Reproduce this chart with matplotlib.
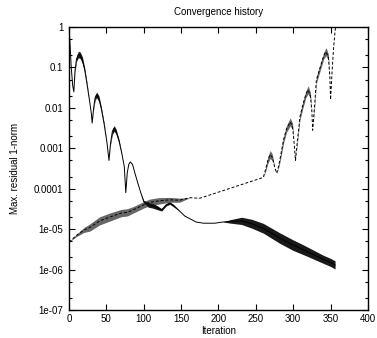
import matplotlib
matplotlib.use("Agg")
import matplotlib.pyplot as plt
import matplotlib.ticker as mticker
import numpy as np

plt.rcParams['font.family'] = ['Liberation Sans', 'DejaVu Sans']
plt.rcParams['font.size'] = 7

# solid curve: iteration, residual, half-width of the oscillation band (decades)
it_solid = [0, 1.5, 3, 5, 6.5, 8, 10, 12.5, 15, 18, 21, 24, 28, 30, 31, 33, 35, 37, 40,
            43, 47, 51, 53.5, 55.5, 58, 60.5, 63, 67, 71, 74, 76, 78, 80, 82, 85, 88,
            92, 96, 100, 106, 112, 118, 124, 130, 135, 140, 148, 155, 162, 170, 180,
            195, 206, 215, 231, 245, 260, 282, 300, 315, 327, 340, 350, 356]
res_solid = [1.0, 0.35, 0.1, 0.035, 0.025, 0.08, 0.16, 0.21, 0.2, 0.15, 0.087, 0.04,
             0.013, 0.007, 0.0042, 0.01, 0.018, 0.021, 0.017, 0.01, 0.004, 0.0013,
             0.0005, 0.0013, 0.0026, 0.0031, 0.0026, 0.0015, 0.0007, 0.00035, 8e-5,
             0.00025, 0.0004, 0.00046, 0.0004, 0.00025, 0.00014, 8e-5, 4.8e-5, 4e-5,
             3.8e-5, 3.4e-5, 3e-5, 4e-5, 4.4e-5, 3.8e-5, 2.8e-5, 2.1e-5, 1.8e-5,
             1.5e-5, 1.4e-5, 1.4e-5, 1.5e-5, 1.55e-5, 1.6e-5, 1.35e-5, 1.05e-5, 6e-6,
             4e-6, 3e-6, 2.35e-6, 1.8e-6, 1.5e-6, 1.3e-6]
band_solid = [0, 0, 0, 0, 0, 0.03, 0.06, 0.08, 0.08, 0.08, 0.05, 0.03, 0, 0, 0, 0.03,
              0.06, 0.07, 0.07, 0.05, 0.03, 0, 0, 0.03, 0.07, 0.07, 0.06, 0.04, 0, 0,
              0, 0, 0, 0, 0, 0, 0, 0, 0.03, 0.06, 0.06, 0.05, 0.03, 0.03, 0.03, 0.03,
              0, 0, 0, 0, 0, 0, 0, 0.04, 0.09, 0.11, 0.12, 0.13, 0.13, 0.12, 0.11,
              0.1, 0.1, 0.1]

# dashed curve
it_dash = [0, 10, 20, 28, 41, 55, 70, 78, 86, 100, 108, 120, 135, 148, 162, 175, 260,
           263, 266, 269, 272, 275, 278, 281, 284, 287, 291, 296, 299, 301, 303, 305,
           309, 313, 317, 320, 323, 325, 326, 328, 331, 336, 341, 344, 347, 349, 350,
           352, 354, 356, 357.5]
res_dash = [4.8e-6, 7e-6, 9.5e-6, 1.1e-5, 1.6e-5, 2e-5, 2.5e-5, 2.6e-5, 3e-5, 4e-5,
            4.6e-5, 5e-5, 5.3e-5, 5.2e-5, 6e-5, 5.8e-5, 1.9e-4, 3e-4, 5e-4, 7e-4,
            6e-4, 3.5e-4, 2.4e-4, 4e-4, 8e-4, 1.6e-3, 3e-3, 4.5e-3, 3.5e-3, 1.5e-3,
            5e-4, 1.2e-3, 6e-3, 0.012, 0.022, 0.028, 0.02, 0.008, 0.0028, 0.008, 0.049,
            0.1, 0.2, 0.245, 0.18, 0.06, 0.016, 0.08, 0.3, 0.8, 1.3]
band_dash = [0, 0.03, 0.06, 0.09, 0.1, 0.1, 0.09, 0.09, 0.08, 0.08, 0.08, 0.08, 0.06,
             0.05, 0, 0, 0, 0.05, 0.08, 0.1, 0.08, 0, 0, 0.05, 0.08, 0.08, 0.08, 0.1,
             0.08, 0, 0, 0.05, 0.08, 0.08, 0.08, 0.1, 0.08, 0, 0, 0.05, 0.08, 0.08,
             0.08, 0.1, 0.08, 0, 0, 0, 0, 0, 0]

yticks = [1e-7, 1e-6, 1e-5, 1e-4, 1e-3, 1e-2, 1e-1, 1]
ytick_labels = ['1e-07', '1e-06', '1e-05', '0.0001', '0.001', '0.01', '0.1', '1']

fig = plt.figure(figsize=(3.77, 3.38), dpi=100)
ax = fig.add_axes([0.183, 0.083, 0.793, 0.837])

def draw(it, res, band, ls, col, alpha):
    it = np.array(it)
    res = np.array(res)
    band = np.array(band)
    ax.fill_between(it, res * 10**(-band), res * 10**band, color=col, lw=0, alpha=alpha)
    ax.plot(it, res, color='black', lw=0.7, ls=ls)

draw(it_solid, res_solid, band_solid, '-', 'black', 0.9)
draw(it_dash, res_dash, band_dash, (0, (3, 2)), '0.15', 0.7)

ax.set_yscale('log')
ax.set_xlim(0, 400)
ax.set_ylim(1e-7, 1)
ax.set_xticks(np.arange(0, 401, 50))
ax.set_yticks(yticks)
ax.set_yticklabels(ytick_labels)
minor = [m * d for d in yticks[:-1] for m in (2, 5)]
ax.yaxis.set_minor_locator(mticker.FixedLocator(minor))
ax.yaxis.set_minor_formatter(mticker.NullFormatter())

ax.tick_params(which='both', direction='in', top=True, right=True, labelsize=7, width=0.8)
ax.tick_params(which='major', length=4, pad=4)
ax.tick_params(axis='x', which='major', pad=3)
ax.tick_params(which='minor', length=2)
for s in ax.spines.values():
    s.set_linewidth(1.0)

ax.set_title('Convergence history', fontsize=7, pad=9)
ax.set_xlabel('Iteration', fontsize=7, labelpad=1)
ax.set_ylabel('Max. residual 1-norm', fontsize=7, labelpad=10)

fig.savefig('out.png', dpi=100)
